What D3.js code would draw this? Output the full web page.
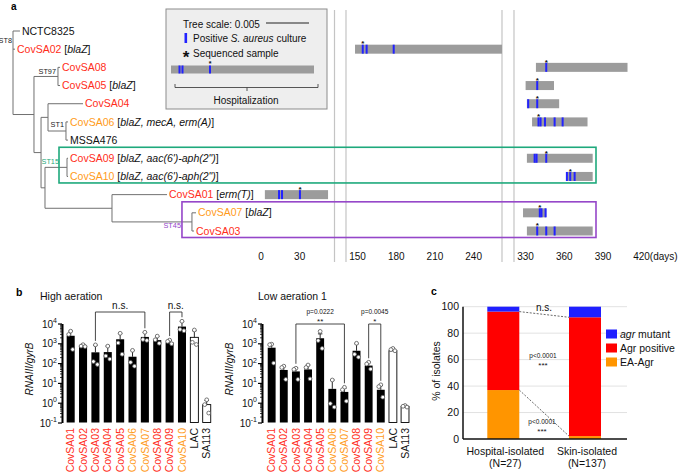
<!DOCTYPE html>
<html><head><meta charset="utf-8">
<script src="https://cdn.jsdelivr.net/npm/d3@7/dist/d3.min.js"></script>
<style>
html,body{margin:0;padding:0;background:#fff;}
svg{display:block;font-family:"Liberation Sans",Arial,Helvetica,sans-serif;}
</style></head>
<body><svg id="fig" width="680" height="472"></svg>
<script>
// ===================== DATA =====================
// ---- Panel a: phylogeny (cumulative distance from root, substitutions/site)
const treeNodes   = ["root","NCTC8325","CovSA02","nA","ST97","CovSA08","CovSA05","nB","nC","CovSA04","ST1","CovSA06","MSSA476","nD","ST15","CovSA09","CovSA10","nE","CovSA01","ST45","CovSA07","CovSA03"];
const treeParents = [null,"root","root","root","nA","ST97","ST97","nA","nB","nC","nC","ST1","ST1","nB","nD","ST15","ST15","nD","nE","nE","ST45","ST45"];
const treeDist    = [0,0.00081,0.00023,0.00244,0.00523,0.00547,0.00547,0.00326,0.00407,0.00814,0.00616,0.0064,0.0064,0.00372,0.00628,0.0064,0.0064,0.01151,0.01791,0.02081,0.02128,0.02105];
const leafNames = ["NCTC8325","CovSA02","CovSA08","CovSA05","CovSA04","CovSA06","MSSA476","CovSA09","CovSA10","CovSA01","CovSA07","CovSA03"];
const leafGenes = ["","blaZ","","blaZ","","blaZ, mecA, erm(A)","","blaZ, aac(6')-aph(2\")","blaZ, aac(6')-aph(2\")","erm(T)","blaZ",""];
const leafGroup = ["ref","A","A","A","A","B","ref","A","B","A","B","A"];
const cladeNames = ["ST8","ST97","ST1","ST15","ST45"];
const cladeNodes = ["root","ST97","ST1","ST15","ST45"];
const cladeBoxed = [false,false,false,true,true];
const treeScaleValue = 0.005;

// ---- Panel a: timeline (days)
const tlIsolates  = ["CovSA02","CovSA08","CovSA05","CovSA04","CovSA06","CovSA09","CovSA10","CovSA01","CovSA07","CovSA03"];
const tlStart     = [148,338,330,331,335,331,362,3,328,331];
const tlEnd       = [262,409,352,356,378,382,382,52,346,382];
const tlPositive  = [[154,157,178],[346],[339],[332,339],[340,341.6,345,352.5,358.7],[337,338.5,346],[362,364.6,368],[14,16.3,30.2],[341,342.3,345.5],[339,346,352.5]];
const tlSequenced = [154,346,339,339,340,346,364.6,30.2,341,339];
const dayTicks    = [0,30,150,180,210,240,330,360,390,420];
const timeSegments = [[0,57],[141,262],[321,430]];

// ---- Panel b: RNAIII/gyrB
const isolates     = ["CovSA01","CovSA02","CovSA03","CovSA04","CovSA05","CovSA06","CovSA07","CovSA08","CovSA09","CovSA10","LAC","SA113"];
const isolateGroup = ["A","A","A","A","A","B","B","A","A","B","ctrl","ctrl"];
const highMean   = [2400,760,350,360,1600,210,2100,1450,1100,7000,2000,0.8];
const highErrTop = [4100,880,800,720,3100,430,3500,2200,1400,12500,4300,1.3];
const highPts    = [[4100,2800,490],[850,720,680],[830,120,85],[720,230,160],[3200,1050,280],[440,110,70],[3600,1560,1400],[2300,1500,1000],[1450,1250,950],[13000,5000,4300],[4700,1120,870],[1.4,0.8,0.3]];
const lowMean    = [600,45,38,48,1800,5,3.5,420,75,4.5,420,0.65];
const lowErrTop  = [900,70,58,80,3000,14,5.5,950,110,7.5,540,0.72];
const lowPts     = [[900,850,100],[70,60,15],[55,48,15],[80,60,16],[4000,1380,550],[14,0.9,0.6],[6,4.5,1.2],[1000,280,200],[110,90,50],[8,6.5,1.9],[550,480,420],[0.72,0.66,0.6]];
const highBrackets = [["CovSA03","CovSA07","n.s.",""],["CovSA09","CovSA10","n.s.",""]];
const lowBrackets  = [["CovSA03","CovSA07","p=0.0222","**"],["CovSA09","CovSA10","p=0.0045","*"]];
const logDecades = [-1,0,1,2,3,4];

// ---- Panel c: agr status
const sources   = ["Hospital-isolated","Skin-isolated"];
const sourceN   = [27,137];
const agrClasses = ["EA-Agr","Agr positive","agr mutant"];
const pctEA     = [37.0, 2.2];
const pctAgrPos = [59.3, 89.8];
const pctMutant = [3.7, 8.0];
const pctTicks  = [0,20,40,60,80,100];
const cStats = [["n.s.",""],["p<0.0001","***"],["p<0.0001","***"]];

// ===================== STYLE =====================
const COL = {A:"#ff2d1a", B:"#ff9b1a", ref:"#111", ctrl:"#111",
  green:"#1ea97c", purple:"#9546c9", tline:"#707070", bar:"#9c9c9c", tick:"#2222ff",
  cBlue:"#1f1fff", cRed:"#ff0000", cOrange:"#ff9500"};
const svg = d3.select("#fig");
const FS = 10.5;

// ===================== PANEL A: TREE =====================
svg.append("text").attr("x",11).attr("y",9.5).attr("font-size",10).attr("font-weight","bold").text("a");

const root = d3.stratify().id(d=>d.id).parentId(d=>d.parent)(
  treeNodes.map((id,i)=>({id, parent:treeParents[i], dist:treeDist[i]})));
const xT = d3.scaleLinear().domain([0, treeScaleValue]).range([13, 56]);
const leafIds = root.leaves().map(d=>d.id);
const yLeaf = d3.scalePoint().domain(leafIds).range([31, 231]);
root.eachAfter(n=>{
  n.px = xT(n.data.dist);
  n.py = n.children ? (n.children[0].py + n.children[n.children.length-1].py)/2 : yLeaf(n.id);
});
const nodeById = new Map(root.descendants().map(n=>[n.id,n]));

// timeline separators & scale
const segRanges = [[261,334.5],[346,502],[514,654.6]];
const segScales = timeSegments.map((d,i)=>d3.scaleLinear().domain(d).range(segRanges[i]));
function tX(day){
  for(let i=0;i<timeSegments.length;i++){ if(day>=timeSegments[i][0] && day<=timeSegments[i][1]) return segScales[i](day); }
  return segScales[segScales.length-1](day);
}
const sepX = [segRanges[0][1], segRanges[1][0], segRanges[1][1], segRanges[2][0]];
svg.append("g").selectAll("line").data(sepX).join("line")
  .attr("x1",d=>d).attr("x2",d=>d).attr("y1",10).attr("y2",262)
  .attr("stroke","#c4c4c4").attr("stroke-width",1.2);

// tree branches
const gT = svg.append("g").attr("stroke",COL.tline).attr("stroke-width",1).attr("fill","none");
root.descendants().forEach(n=>{
  if(n.parent) gT.append("line").attr("x1",n.parent.px).attr("x2",n.px).attr("y1",n.py).attr("y2",n.py);
  if(n.children) gT.append("line").attr("x1",n.px).attr("x2",n.px)
    .attr("y1",n.children[0].py).attr("y2",n.children[n.children.length-1].py);
});

// leaf labels
root.leaves().forEach(n=>{
  const i = leafNames.indexOf(n.id);
  const t = svg.append("text").attr("x",n.px+2).attr("y",n.py).attr("dy","0.35em").attr("font-size",FS).attr("fill","#111");
  t.append("tspan").attr("fill",COL[leafGroup[i]]).text(n.id);
  if(leafGenes[i]){
    t.append("tspan").text(" [");
    t.append("tspan").attr("font-style","italic").text(leafGenes[i]);
    t.append("tspan").text("]");
  }
});

// clade labels (offsets are layout)
const cladeLabelOffset = {root:[-1,-32.5], ST97:[-2,-5], ST1:[-2,-6.5], ST15:[-8,-5.5], ST45:[-11,4]};
cladeNames.forEach((nm,i)=>{
  const n = nodeById.get(cladeNodes[i]);
  const o = cladeLabelOffset[cladeNodes[i]];
  const c = nm==="ST15"?COL.green:nm==="ST45"?COL.purple:"#222";
  svg.append("text").attr("x",n.px+o[0]).attr("y",n.py+o[1]).attr("dy","0.35em")
    .attr("text-anchor","end").attr("font-size",7.3).attr("fill",c).text(nm);
});

// timeline bars
const barH = 9;
const gTL = svg.append("g");
tlIsolates.forEach((iso,i)=>{
  const y = nodeById.get(iso).py;
  gTL.append("rect").attr("x",tX(tlStart[i])).attr("width",tX(tlEnd[i])-tX(tlStart[i]))
    .attr("y",y-barH/2).attr("height",barH).attr("fill",COL.bar);
  tlPositive[i].forEach(d=>{
    gTL.append("rect").attr("x",tX(d)-1).attr("width",2).attr("y",y-barH/2).attr("height",barH).attr("fill",COL.tick);
  });
  gTL.append("text").attr("x",tX(tlSequenced[i])).attr("y",y-barH/2+1.8).attr("text-anchor","middle")
    .attr("font-size",8).attr("font-weight","bold").attr("fill","#111").text("*");
});

// clade boxes
cladeNames.forEach((nm,i)=>{
  if(!cladeBoxed[i]) return;
  const n = nodeById.get(cladeNodes[i]);
  const ys = n.leaves().map(l=>l.py);
  const left = n.px - (nm==="ST15"?8:10);
  svg.append("rect").attr("x",left).attr("y",d3.min(ys)-11).attr("width",596-left)
    .attr("height",d3.max(ys)-d3.min(ys)+17.5).attr("fill","none")
    .attr("stroke",nm==="ST15"?COL.green:COL.purple).attr("stroke-width",1.6);
});

// day axis labels
svg.append("g").selectAll("text").data(dayTicks).join("text")
  .attr("x",d=>d===420? tX(d)-8.5 : tX(d)).attr("y",260)
  .attr("text-anchor",d=>d===420?"start":"middle").attr("font-size",10).attr("fill","#111")
  .text(d=>d===420? d+"(days)" : d);

// legend box
const L = svg.append("g");
L.append("rect").attr("x",166).attr("y",9).attr("width",161).attr("height",100).attr("fill","#eeeeee").attr("stroke","#8c8c8c").attr("stroke-width",1);
L.append("text").attr("x",183).attr("y",27.5).attr("font-size",10).attr("fill","#111").text("Tree scale: "+treeScaleValue);
L.append("line").attr("x1",266).attr("x2",266+xT(treeScaleValue)-xT(0)).attr("y1",23).attr("y2",23).attr("stroke","#222").attr("stroke-width",1);
L.append("rect").attr("x",184.5).attr("y",33).attr("width",2.6).attr("height",10).attr("fill",COL.tick);
const lt = L.append("text").attr("x",193).attr("y",41.5).attr("font-size",10).attr("fill","#111");
lt.append("tspan").text("Positive ");
lt.append("tspan").attr("font-style","italic").text("S. aureus");
lt.append("tspan").text(" culture");
L.append("text").attr("x",186).attr("y",62.5).attr("text-anchor","middle").attr("font-size",17).attr("font-weight","bold").attr("fill","#111").text("*");
L.append("text").attr("x",193).attr("y",57).attr("font-size",10).attr("fill","#111").text("Sequenced sample");
L.append("rect").attr("x",171).attr("y",65.5).attr("width",143).attr("height",8).attr("fill",COL.bar);
[179.5,182.5,210].forEach(x=>L.append("rect").attr("x",x-1).attr("y",65.5).attr("width",2).attr("height",8).attr("fill",COL.tick));
L.append("text").attr("x",210).attr("y",65.5).attr("text-anchor","middle").attr("font-size",7).attr("font-weight","bold").attr("fill","#111").text("*");
L.append("path").attr("d","M175,84V87.5H318V84M247,87.5V91").attr("fill","none").attr("stroke","#444").attr("stroke-width",0.9);
L.append("text").attr("x",246).attr("y",104).attr("text-anchor","middle").attr("font-size",10).attr("fill","#111").text("Hospitalization");

// ===================== PANEL B =====================
svg.append("text").attr("x",16).attr("y",296).attr("font-size",10.5).attr("font-weight","bold").text("b");
const yB = d3.scaleLog().domain([0.1,1e4]).range([422.5,323.5]);
const majors = logDecades.map(k=>Math.pow(10,k));
const minors = [];
logDecades.slice(0,-1).forEach(k=>{ for(let m=2;m<=9;m++) minors.push(m*Math.pow(10,k)); });

function rnaPanel(o){
  const g = svg.append("g");
  const xb = d3.scaleBand().domain(isolates).range(o.range).paddingInner(0.35).paddingOuter(0.175);
  const bw = xb.bandwidth();
  g.append("text").attr("x",o.titleX).attr("y",300).attr("font-size",FS).attr("fill","#111").text(o.title);
  // axis
  g.append("g").attr("transform",`translate(${o.axisX},0)`)
    .call(d3.axisLeft(yB).tickValues(minors).tickSize(2).tickSizeOuter(0).tickFormat(""))
    .call(s=>{s.select(".domain").attr("stroke-width",1.6); s.selectAll(".tick line").attr("stroke-width",0.8);});
  g.append("g").attr("transform",`translate(${o.axisX},0)`)
    .call(d3.axisLeft(yB).tickValues(majors).tickSize(4).tickSizeOuter(0).tickFormat(""))
    .call(s=>{s.select(".domain").attr("stroke-width",1.6); s.selectAll(".tick line").attr("stroke-width",1.2);});
  majors.forEach((v,i)=>{
    const t = g.append("text").attr("x",o.axisX-5).attr("y",yB(v)+4).attr("text-anchor","end").attr("font-size",10).attr("fill","#111");
    t.append("tspan").text("10");
    t.append("tspan").attr("font-size",7).attr("dy",-4.5).text(logDecades[i]);
  });
  g.append("text").attr("transform",`translate(${o.axisX-29},369) rotate(-90)`).attr("text-anchor","middle")
    .attr("font-size",10).attr("font-style","italic").attr("fill","#111").text("RNAIII/gyrB");
  // bars
  isolates.forEach((iso,i)=>{
    const ctrl = isolateGroup[i]==="ctrl";
    const x = xb(iso), cx = x+bw/2;
    g.append("rect").attr("x",x).attr("width",bw).attr("y",yB(o.means[i])).attr("height",yB(0.1)-yB(o.means[i]))
      .attr("fill",ctrl?"#fff":"#000").attr("stroke","#000").attr("stroke-width",ctrl?0.9:0);
    g.append("line").attr("x1",cx).attr("x2",cx).attr("y1",yB(o.means[i])).attr("y2",yB(o.errs[i])).attr("stroke","#111").attr("stroke-width",0.9);
    g.append("line").attr("x1",cx-2.2).attr("x2",cx+2.2).attr("y1",yB(o.errs[i])).attr("y2",yB(o.errs[i])).attr("stroke","#111").attr("stroke-width",0.9);
    o.pts[i].forEach((p,j)=>{
      g.append("circle").attr("cx",cx+(j===0?0:(j===1?-2:2))).attr("cy",yB(p)).attr("r",1.9)
        .attr("fill","#fff").attr("stroke","#555").attr("stroke-width",0.8);
    });
    g.append("text").attr("transform",`translate(${cx},428) rotate(-90)`).attr("dy","0.35em")
      .attr("text-anchor","end").attr("font-size",FS).attr("fill",COL[isolateGroup[i]]).text(iso);
  });
  // brackets
  o.brackets.forEach(b=>{
    const i1 = isolates.indexOf(b[0]), i2 = isolates.indexOf(b[1]);
    const x1 = xb(b[0])+bw/2, x2 = xb(b[1])+bw/2;
    const t1 = yB(Math.max(o.errs[i1], ...o.pts[i1]))-4, t2 = yB(Math.max(o.errs[i2], ...o.pts[i2]))-4;
    g.append("path").attr("d",`M${x1},${t1}V${o.bracketY}H${x2}V${t2}`).attr("fill","none").attr("stroke","#333").attr("stroke-width",0.9);
    const mx = (x1+x2)/2;
    if(b[3]){
      g.append("text").attr("x",mx).attr("y",o.bracketY-10).attr("text-anchor","middle").attr("font-size",6.5).attr("fill","#111").text(b[2]);
      g.append("text").attr("x",mx).attr("y",o.bracketY-0.5).attr("text-anchor","middle").attr("font-size",8).attr("fill","#111").text(b[3]);
    } else {
      g.append("text").attr("x",mx).attr("y",o.bracketY-3).attr("text-anchor","middle").attr("font-size",10).attr("fill","#111").text(b[2]);
    }
  });
}
rnaPanel({axisX:62, range:[64.5,212.9], means:highMean, errs:highErrTop, pts:highPts, title:"High aeration", titleX:40, brackets:highBrackets, bracketY:312});
rnaPanel({axisX:262, range:[265.6,411.1], means:lowMean, errs:lowErrTop, pts:lowPts, title:"Low aeration 1", titleX:258, brackets:lowBrackets, bracketY:324});

// ===================== PANEL C =====================
svg.append("text").attr("x",431).attr("y",295).attr("font-size",10.5).attr("font-weight","bold").text("c");
const yC = d3.scaleLinear().domain([0,100]).range([439,306.7]);
const xC = d3.scalePoint().domain(sources).range([503.3,585]);
const cbw = 32;
const gC = svg.append("g");
gC.append("g").selectAll("line").data(pctTicks.slice(1)).join("line")
  .attr("x1",463).attr("x2",627).attr("y1",d=>yC(d)).attr("y2",d=>yC(d)).attr("stroke","#e2e2e2").attr("stroke-width",1);
const rowsC = sources.map((s,i)=>({source:s, "EA-Agr":pctEA[i], "Agr positive":pctAgrPos[i], "agr mutant":pctMutant[i]}));
const stackC = d3.stack().keys(agrClasses)(rowsC);
const cColor = {"EA-Agr":COL.cOrange, "Agr positive":COL.cRed, "agr mutant":COL.cBlue};
stackC.forEach(layer=>{
  gC.append("g").attr("fill",cColor[layer.key]).selectAll("rect").data(layer).join("rect")
    .attr("x",d=>xC(d.data.source)-cbw/2).attr("width",cbw)
    .attr("y",d=>yC(d[1])).attr("height",d=>yC(d[0])-yC(d[1]));
});
gC.append("line").attr("x1",463).attr("x2",627).attr("y1",439).attr("y2",439).attr("stroke","#111").attr("stroke-width",1.5);
gC.append("line").attr("x1",463).attr("x2",463).attr("y1",yC(100)).attr("y2",439).attr("stroke","#111").attr("stroke-width",1.5);
gC.append("g").selectAll("text").data(pctTicks).join("text")
  .attr("x",459).attr("y",d=>yC(d)+3.7).attr("text-anchor","end").attr("font-size",FS).attr("fill","#111").text(d=>d);
gC.append("text").attr("transform","translate(440,371) rotate(-90)").attr("text-anchor","middle").attr("font-size",FS).attr("fill","#111").text("% of isolates");
// connectors
const hx = xC(sources[0])+cbw/2, sx = xC(sources[1])-cbw/2;
const posTop = sources.map((s,i)=>pctEA[i]+pctAgrPos[i]);
[[posTop[0],posTop[1]],[pctEA[0],pctEA[1]]].forEach(p=>{
  gC.append("line").attr("x1",hx).attr("x2",sx).attr("y1",yC(p[0])).attr("y2",yC(p[1]))
    .attr("stroke","#444").attr("stroke-width",0.8).attr("stroke-dasharray","2,1.5");
});
gC.append("text").attr("x",544).attr("y",310.5).attr("text-anchor","middle").attr("font-size",10).attr("fill","#111").text(cStats[0][0]);
gC.append("text").attr("x",543).attr("y",358).attr("text-anchor","middle").attr("font-size",6.5).attr("fill","#111").text(cStats[1][0]);
gC.append("text").attr("x",543).attr("y",368).attr("text-anchor","middle").attr("font-size",8).attr("fill","#111").text(cStats[1][1]);
gC.append("text").attr("x",542).attr("y",423.5).attr("text-anchor","middle").attr("font-size",6.5).attr("fill","#111").text(cStats[2][0]);
gC.append("text").attr("x",542).attr("y",434).attr("text-anchor","middle").attr("font-size",8).attr("fill","#111").text(cStats[2][1]);
// category labels
sources.forEach((s,i)=>{
  gC.append("text").attr("x",xC(s)+2).attr("y",455).attr("text-anchor","middle").attr("font-size",FS).attr("fill","#111").text(s);
  gC.append("text").attr("x",xC(s)+2).attr("y",467).attr("text-anchor","middle").attr("font-size",FS).attr("fill","#111").text(`(N=${sourceN[i]})`);
});
// legend
agrClasses.slice().reverse().forEach((k,i)=>{
  const y = 334 + i*14;
  gC.append("rect").attr("x",606).attr("y",y-4.5).attr("width",11).attr("height",9).attr("fill",cColor[k]);
  const t = gC.append("text").attr("x",620).attr("y",y+3.8).attr("font-size",FS).attr("fill","#111");
  if(k==="agr mutant"){ t.append("tspan").attr("font-style","italic").text("agr"); t.append("tspan").text(" mutant"); }
  else t.text(k);
});
</script>
</body></html>
